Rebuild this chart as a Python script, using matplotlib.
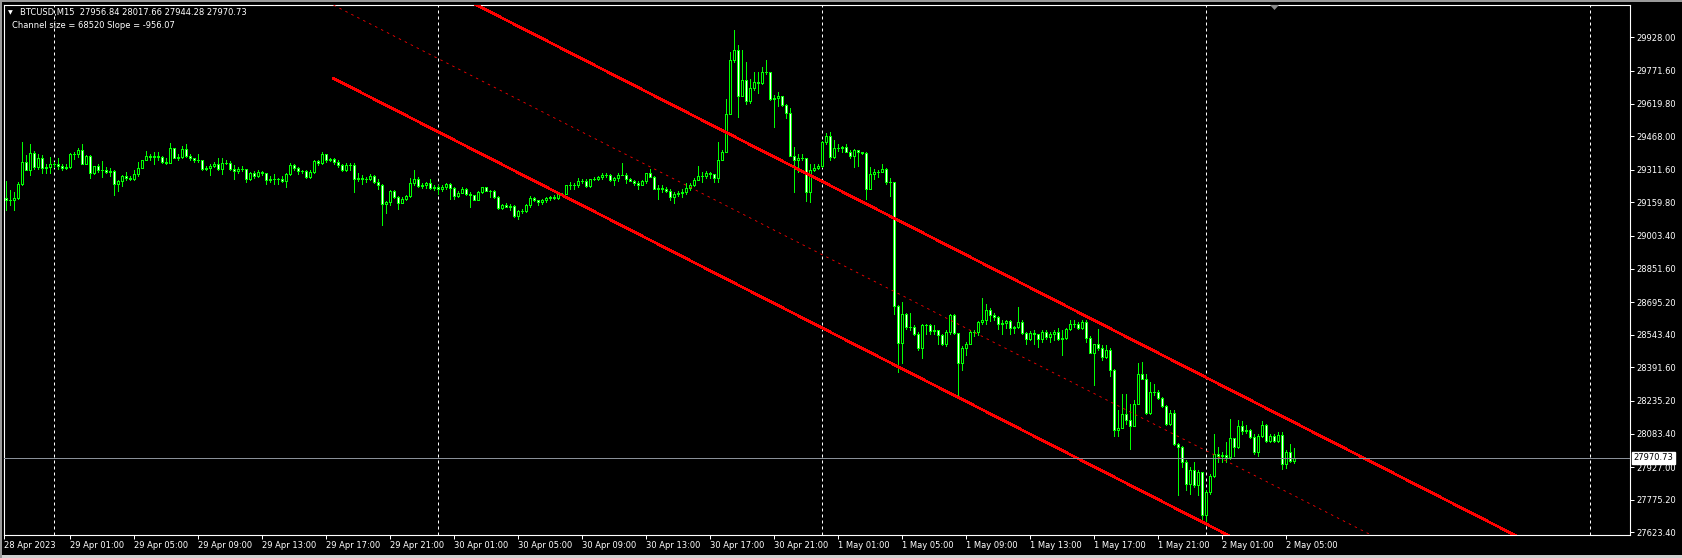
import matplotlib
matplotlib.use('Agg')
import matplotlib.pyplot as plt
import matplotlib.transforms as mtransforms
from matplotlib.patches import Rectangle, Polygon
from matplotlib.collections import LineCollection, PatchCollection

# BTCUSD M15, bar 0 = 28 Apr 2023 21:00
first_open = 29180
close = [
    29169, 29172, 29182, 29244, 29349, 29312, 29391, 29324, 29368, 29321,
    29324, 29340, 29340, 29331, 29320, 29324, 29383, 29386, 29405, 29340,
    29374, 29296, 29327, 29309, 29312, 29303, 29306, 29247, 29259, 29281,
    29275, 29270, 29290, 29321, 29355, 29374, 29371, 29374, 29371, 29349,
    29345, 29411, 29368, 29371, 29408, 29376, 29365, 29355, 29355, 29315,
    29320, 29331, 29340, 29315, 29343, 29345, 29315, 29306, 29315, 29317,
    29268, 29296, 29281, 29300, 29296, 29265, 29268, 29270, 29267, 29259,
    29290, 29332, 29320, 29306, 29306, 29278, 29301, 29351, 29345, 29383,
    29358, 29362, 29349, 29334,
    29310, 29335, 29335, 29270, 29273, 29270, 29270, 29282, 29254, 29239,
    29152, 29161, 29214, 29183, 29155, 29177, 29188, 29251, 29270, 29236,
    29242, 29251, 29227, 29230, 29220, 29233, 29245, 29227, 29189, 29205,
    29223, 29199, 29192, 29172, 29208, 29230, 29214, 29214, 29183, 29133,
    29146, 29140, 29141, 29096, 29118, 29118, 29146, 29180, 29171, 29161,
    29171, 29180, 29183, 29180, 29200, 29199, 29239, 29239, 29239, 29258,
    29261, 29236, 29267, 29270, 29278, 29286, 29289, 29264, 29273, 29289,
    29289, 29267, 29261, 29251, 29239, 29258, 29295, 29278, 29223, 29227,
    29223, 29214, 29185, 29200, 29203, 29206, 29225, 29241, 29262, 29281,
    29281, 29296, 29290, 29272, 29359, 29393, 29573, 29821, 29868, 29656,
    29731, 29632, 29691, 29719, 29715, 29768, 29765, 29641, 29646, 29653,
    29613, 29576, 29377, 29359, 29368, 29365, 29206, 29312, 29321, 29331,
    29439, 29470, 29371, 29411, 29414, 29417, 29396, 29374, 29402, 29396,
    29391, 29222, 29290, 29303, 29301, 29317, 29253, 29253, 28679,
    28505, 28638, 28579, 28579, 28548, 28483, 28587, 28590, 28561, 28564,
    28542, 28502, 28555, 28634, 28551, 28412, 28483, 28502, 28558, 28558,
    28601, 28614, 28660, 28635, 28626, 28592, 28598, 28607, 28576, 28579,
    28604, 28551, 28524, 28551, 28545, 28524, 28555, 28533, 28548, 28558,
    28524, 28527, 28572, 28592, 28595, 28576, 28601, 28527, 28458, 28499,
    28483, 28440, 28474, 28381,
    28101, 28111, 28173, 28148, 28120, 28222, 28359, 28339, 28179, 28275,
    28275, 28250, 28213, 28126, 28179, 28036, 28021, 27951, 27847, 27912,
    27842, 27903, 27702, 27810, 27887, 27987, 27977, 27982, 27974, 28064,
    28021, 28117, 28095, 28098, 28067, 27997, 28073, 28125, 28049, 28073,
    28049, 28077, 27943, 27997, 27956.84, 27970.73,
]
high = [
    29258, 29216, 29208, 29253, 29440, 29379, 29430, 29399, 29386, 29382,
    29340, 29371, 29348, 29368, 29340, 29340, 29390, 29394, 29411, 29430,
    29380, 29380, 29327, 29337, 29352, 29324, 29321, 29309, 29265, 29287,
    29300, 29281, 29309, 29348, 29358, 29399, 29386, 29394, 29393, 29374,
    29368, 29438, 29415, 29386, 29421, 29433, 29386, 29368, 29383, 29358,
    29327, 29340, 29346, 29368, 29368, 29355, 29352, 29334, 29324, 29327,
    29315, 29301, 29306, 29312, 29306, 29293, 29281, 29290, 29275, 29281,
    29297, 29343, 29340, 29324, 29312, 29309, 29309, 29355, 29358, 29392,
    29386, 29368, 29368, 29358,
    29338, 29341, 29341, 29344, 29298, 29286, 29279, 29292, 29286, 29270,
    29245, 29168, 29217, 29219, 29188, 29183, 29195, 29273, 29309, 29276,
    29248, 29254, 29267, 29239, 29242, 29239, 29248, 29251, 29233, 29211,
    29230, 29227, 29208, 29195, 29211, 29233, 29230, 29217, 29217, 29189,
    29152, 29155, 29154, 29146, 29124, 29127, 29152, 29189, 29183, 29168,
    29177, 29186, 29189, 29192, 29208, 29205, 29242, 29254, 29248, 29273,
    29267, 29270, 29270, 29276, 29282, 29295, 29298, 29292, 29279, 29295,
    29344, 29295, 29273, 29264, 29261, 29264, 29298, 29317, 29282, 29239,
    29239, 29231, 29223, 29208, 29213, 29223, 29250, 29250, 29275, 29327,
    29301, 29306, 29301, 29284, 29439, 29405, 29643, 29860, 29961, 29891,
    29871, 29815, 29736, 29767, 29767, 29790, 29824, 29768, 29658, 29672,
    29650, 29619, 29598, 29417, 29386, 29383, 29362, 29340, 29337, 29337,
    29445, 29483, 29486, 29449, 29433, 29424, 29433, 29405, 29410, 29402,
    29394, 29393, 29324, 29315, 29309, 29337, 29318, 29272, 29256,
    28680, 28696, 28645, 28645, 28587, 28556, 28595, 28595, 28595, 28587,
    28567, 28548, 28564, 28641, 28638, 28551, 28489, 28510, 28567, 28567,
    28607, 28716, 28685, 28669, 28645, 28632, 28610, 28614, 28614, 28583,
    28673, 28610, 28556, 28561, 28564, 28548, 28564, 28564, 28556, 28564,
    28576, 28564, 28576, 28610, 28610, 28603, 28610, 28610, 28539, 28502,
    28572, 28494, 28494, 28483,
    28385, 28191, 28269, 28269, 28222, 28238, 28413, 28415, 28362, 28323,
    28312, 28284, 28253, 28216, 28191, 28191, 28039, 28024, 27959, 27928,
    27951, 27912, 27903, 27819, 27896, 28083, 28021, 27997, 28044, 28152,
    28064, 28145, 28142, 28121, 28104, 28083, 28083, 28142, 28129, 28080,
    28083, 28090, 28090, 28005, 28036, 28017.66,
]
low = [
    29123, 29146, 29126, 29177, 29241, 29309, 29285, 29317, 29317, 29298,
    29298, 29296, 29324, 29317, 29309, 29313, 29321, 29362, 29371, 29337,
    29337, 29275, 29293, 29300, 29278, 29296, 29284, 29194, 29213, 29237,
    29265, 29262, 29265, 29284, 29318, 29355, 29358, 29340, 29355, 29343,
    29340, 29352, 29365, 29358, 29368, 29372, 29358, 29349, 29348, 29312,
    29309, 29289, 29324, 29312, 29293, 29337, 29309, 29270, 29296, 29306,
    29253, 29262, 29275, 29278, 29289, 29247, 29256, 29247, 29244, 29253,
    29233, 29287, 29309, 29293, 29296, 29275, 29275, 29298, 29334, 29337,
    29349, 29352, 29340, 29324,
    29307, 29307, 29310, 29208, 29258, 29245, 29254, 29264, 29251, 29223,
    29053, 29112, 29149, 29180, 29130, 29155, 29171, 29183, 29242, 29233,
    29227, 29227, 29223, 29216, 29200, 29214, 29223, 29177, 29174, 29186,
    29202, 29195, 29140, 29169, 29171, 29205, 29211, 29186, 29180, 29130,
    29130, 29137, 29123, 29093, 29081, 29112, 29115, 29137, 29164, 29149,
    29152, 29161, 29171, 29174, 29177, 29192, 29202, 29220, 29223, 29233,
    29251, 29233, 29233, 29264, 29264, 29270, 29279, 29261, 29242, 29261,
    29286, 29248, 29258, 29242, 29223, 29239, 29251, 29276, 29220, 29174,
    29208, 29210, 29172, 29157, 29188, 29185, 29200, 29219, 29234, 29262,
    29253, 29272, 29275, 29253, 29256, 29355, 29393, 29570, 29815, 29557,
    29656, 29619, 29622, 29684, 29669, 29709, 29759, 29638, 29511, 29607,
    29607, 29554, 29374, 29210, 29300, 29355, 29166, 29160, 29306, 29315,
    29324, 29433, 29359, 29368, 29399, 29393, 29393, 29368, 29324, 29331,
    29386, 29175, 29231, 29268, 29278, 29300, 29247, 29191, 28641,
    28370, 28412, 28572, 28567, 28541, 28471, 28435, 28545, 28548, 28548,
    28502, 28494, 28489, 28548, 28545, 28253, 28378, 28447, 28499, 28536,
    28541, 28592, 28595, 28607, 28610, 28572, 28548, 28576, 28548, 28551,
    28576, 28548, 28502, 28517, 28502, 28486, 28510, 28525, 28510, 28520,
    28517, 28447, 28524, 28567, 28579, 28572, 28572, 28510, 28458, 28308,
    28471, 28424, 28437, 28350,
    28070, 28070, 28111, 28129, 28013, 28120, 28222, 28339, 28176, 28176,
    28261, 28246, 28207, 28122, 28122, 28028, 27796, 27928, 27819, 27803,
    27834, 27796, 27687, 27670, 27803, 27881, 27951, 27951, 27951, 27966,
    27977, 28018, 28083, 28086, 28064, 27987, 27977, 28067, 28045, 28045,
    28044, 28044, 27920, 27924, 27951, 27944.28,
]

# regression channel (bar index, price)
channel_start = 82
channel_lower = 29737
channel_upper = 30419
channel_slope = -9.51

y_ticks = [29928.00, 29771.60, 29619.80, 29468.00, 29311.60, 29159.80, 29003.40,
           28851.60, 28695.20, 28543.40, 28391.60, 28235.20, 28083.40, 27927.00,
           27775.20, 27623.40]
x_tick_bars = [16, 32, 48, 64, 80, 96, 112, 128, 144, 160, 176, 192, 208, 224,
               240, 256, 272, 288, 304, 320]
x_tick_labels = ['28 Apr 2023', '29 Apr 01:00', '29 Apr 05:00', '29 Apr 09:00', '29 Apr 13:00',
                 '29 Apr 17:00', '29 Apr 21:00', '30 Apr 01:00', '30 Apr 05:00', '30 Apr 09:00',
                 '30 Apr 13:00', '30 Apr 17:00', '30 Apr 21:00', '1 May 01:00', '1 May 05:00',
                 '1 May 09:00', '1 May 13:00', '1 May 17:00', '1 May 21:00', '2 May 01:00',
                 '2 May 05:00']
day_bars = [12, 108, 204, 300, 396]

header = 'BTCUSD,M15  27956.84 28017.66 27944.28 27970.73'
subheader = 'Channel size = 68520 Slope = -956.07'

W, H = 1682, 558
LIME = '#00ff00'

fig = plt.figure(figsize=(W / 100, H / 100), dpi=100, facecolor='black')
ax = fig.add_axes([4 / W, 1 - 535 / H, 1626 / W, 530 / H])
ax.set_facecolor('black')
x0, x1 = -0.375, 406.125
ax.set_xlim(x0, x1)
ax.set_ylim(27611, 30078.7)

# day separators
for b in day_bars:
    ax.axvline(b, color='white', lw=0.72, ls=(0, (3, 3)), zorder=1)

# candles
opens = [first_open] + close[:-1]
wicks = []
bodies = []
fills = []
for i in range(len(close)):
    o, c = opens[i], close[i]
    hi = max(high[i], o, c)
    lo = min(low[i], o, c)
    wicks.append([(i, lo), (i, hi)])
    bodies.append(Rectangle((i - 0.25, min(o, c)), 0.5, abs(c - o)))
    fills.append('black' if c >= o else 'white')

ax.add_collection(LineCollection(wicks, colors=LIME, linewidths=0.72,
                                 antialiaseds=False, zorder=2))
ax.add_collection(PatchCollection(bodies, facecolors=fills, edgecolors=LIME,
                                  linewidths=0.72, antialiaseds=False, zorder=3))

# channel lines
xs = [channel_start, 420]
dx = xs[1] - xs[0]
mid = (channel_upper + channel_lower) / 2
ax.plot(xs, [channel_upper, channel_upper + channel_slope * dx], color='red', lw=1.2,
        antialiased=False, zorder=4)
ax.plot(xs, [channel_lower, channel_lower + channel_slope * dx], color='red', lw=1.2,
        antialiased=False, zorder=4)
ax.plot(xs, [mid, mid + channel_slope * dx], color='red', lw=0.6, ls=(0, (3, 5)),
        zorder=4)

# bid line
last = close[-1]
ax.axhline(last, color='#8a9099', lw=0.72, antialiased=False, zorder=5)

# axes styling
for s in ax.spines.values():
    s.set_color('white')
    s.set_linewidth(0.8)
ax.yaxis.tick_right()
ax.set_yticks(y_ticks)
ax.set_yticklabels([f'{v:.2f}' for v in y_ticks])
ax.set_xticks([x0] + x_tick_bars)
ax.set_xticklabels(x_tick_labels)
ax.tick_params(axis='both', colors='white', labelcolor='white', labelsize=6,
               length=3, width=0.72, direction='out')
ax.tick_params(axis='y', pad=1.5)
ax.tick_params(axis='x', pad=1.0)
for t in ax.get_xticklabels():
    t.set_horizontalalignment('left')

# price label on the scale
trans = mtransforms.blended_transform_factory(ax.transAxes, ax.transData)
ax.text(1.0022, last, f'{last:.2f}', transform=trans, fontsize=6, color='black',
        va='center', ha='left', clip_on=False, zorder=10,
        bbox=dict(boxstyle='square,pad=0.2', fc='white', ec='white'))

# header
fig.text(8 / W, 1 - 12.5 / H, '\u25bc', color='white', fontsize=4.5, va='center', ha='left')
fig.text(20 / W, 1 - 12.5 / H, header, color='white', fontsize=6, va='center', ha='left')
fig.text(12 / W, 1 - 25.5 / H, subheader, color='white', fontsize=6, va='center', ha='left')

# window frame and chart shift marker
def fp(x, y):
    return (x / W, 1 - y / H)

fig.patches.append(Rectangle(fp(0, 2), 1, 2 / H, transform=fig.transFigure, fc='#9a9a9a', ec='none'))
fig.patches.append(Rectangle(fp(0, H), 1, 3 / H, transform=fig.transFigure, fc='#d0d0d0', ec='none'))
fig.patches.append(Rectangle(fp(0, H), 1.5 / W, 1, transform=fig.transFigure, fc='#9a9a9a', ec='none'))
fig.patches.append(Polygon([fp(1270, 5), fp(1279, 5), fp(1274.5, 10)], closed=True,
                           transform=fig.transFigure, fc='#8a8a8a', ec='none', zorder=10))

fig.savefig('out.png', dpi=100, facecolor='black')
